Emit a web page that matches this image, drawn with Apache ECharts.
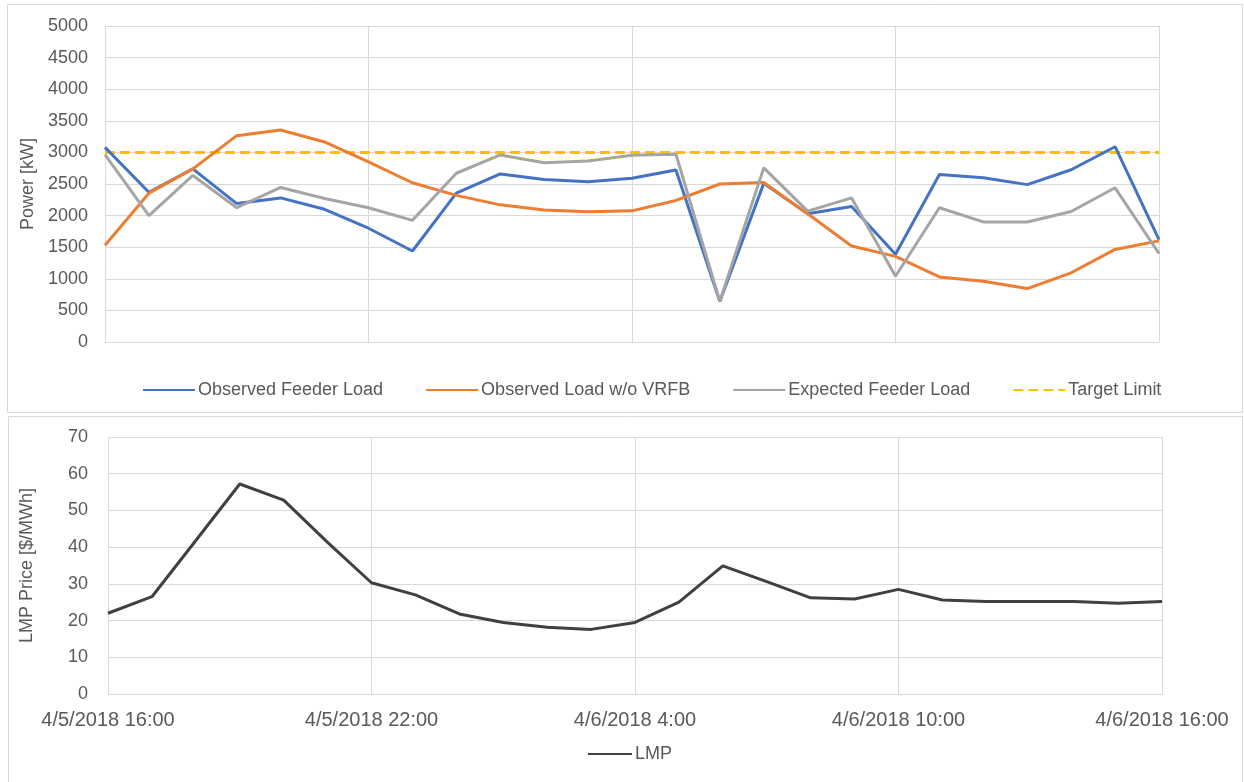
<!DOCTYPE html>
<html>
<head>
<meta charset="utf-8">
<script src="https://cdn.jsdelivr.net/npm/echarts@6/dist/echarts.min.js"></script>
<style>
  html, body { margin: 0; padding: 0; background: #fff; }
  #chart { width: 1244px; height: 782px; }
</style>
</head>
<body>
<div id="chart"></div>
<script>
// Hourly timestamps shared by both panels
const categories = [
  '4/5/2018 16:00', '4/5/2018 17:00', '4/5/2018 18:00', '4/5/2018 19:00', '4/5/2018 20:00',
  '4/5/2018 21:00', '4/5/2018 22:00', '4/5/2018 23:00', '4/6/2018 0:00', '4/6/2018 1:00',
  '4/6/2018 2:00', '4/6/2018 3:00', '4/6/2018 4:00', '4/6/2018 5:00', '4/6/2018 6:00',
  '4/6/2018 7:00', '4/6/2018 8:00', '4/6/2018 9:00', '4/6/2018 10:00', '4/6/2018 11:00',
  '4/6/2018 12:00', '4/6/2018 13:00', '4/6/2018 14:00', '4/6/2018 15:00', '4/6/2018 16:00'
];

// Feeder power [kW]
const observedFeederLoad = [3080, 2370, 2740, 2190, 2280, 2100, 1800, 1440, 2355, 2660, 2570, 2535, 2590, 2720, 640, 2510, 2030, 2145, 1390, 2650, 2600, 2490, 2725, 3090, 1620];
const observedLoadNoVRFB = [1530, 2355, 2740, 3265, 3355, 3165, 2850, 2520, 2320, 2170, 2090, 2060, 2075, 2240, 2500, 2525, 2030, 1520, 1355, 1030, 960, 845, 1095, 1465, 1600];
const expectedFeederLoad = [2965, 2000, 2635, 2125, 2445, 2270, 2125, 1925, 2670, 2960, 2835, 2865, 2955, 2970, 645, 2755, 2070, 2280, 1040, 2125, 1900, 1900, 2065, 2440, 1400];
const targetLimit = [3000, 3000, 3000, 3000, 3000, 3000, 3000, 3000, 3000, 3000, 3000, 3000, 3000, 3000, 3000, 3000, 3000, 3000, 3000, 3000, 3000, 3000, 3000, 3000, 3000];

// Locational marginal price [$/MWh]
const lmp = [22.0, 26.5, 41.8, 57.2, 52.8, 41.3, 30.3, 27.0, 21.8, 19.5, 18.2, 17.6, 19.5, 25.0, 34.9, 30.6, 26.2, 25.9, 28.5, 25.6, 25.2, 25.2, 25.2, 24.7, 25.2];

const FONT = "'Liberation Sans', Arial, sans-serif";
const TEXT = '#595959';
const GRID = '#d9d9d9';

const chart = echarts.init(document.getElementById('chart'), null, { renderer: 'canvas' });

function xAxisFor(gridIndex, showLabels) {
  return {
    type: 'category',
    gridIndex: gridIndex,
    data: categories,
    boundaryGap: false,
    axisLine: { show: true, lineStyle: { color: GRID, width: 1 } },
    axisTick: { show: false },
    axisLabel: {
      show: showLabels,
      interval: 5,
      color: TEXT,
      fontFamily: FONT,
      fontSize: 20,
      margin: 16
    },
    splitLine: { show: true, interval: 5, lineStyle: { color: GRID, width: 1 } }
  };
}

function yAxisFor(gridIndex, max, interval, name, nameGap, labelMargin) {
  return {
    type: 'value',
    gridIndex: gridIndex,
    min: 0, max: max, interval: interval,
    name: name,
    nameLocation: 'middle',
    nameGap: nameGap,
    nameTextStyle: { color: TEXT, fontFamily: FONT, fontSize: 18 },
    axisLine: { show: false },
    axisTick: { show: false },
    axisLabel: { color: TEXT, fontFamily: FONT, fontSize: 18, margin: labelMargin, formatter: v => String(v) },
    splitLine: { show: true, lineStyle: { color: GRID, width: 1 } }
  };
}

function lineSeries(name, data, color, extra) {
  return Object.assign({
    name: name,
    type: 'line',
    data: data,
    xAxisIndex: 0,
    yAxisIndex: 0,
    symbol: 'none',
    smooth: false,
    lineStyle: { color: color, width: 3 },
    itemStyle: { color: color },
    emphasis: { disabled: true }
  }, extra || {});
}

// Legend entries show only the line sample, no marker
const legendItemStyle = { color: 'rgba(0,0,0,0)', borderWidth: 0, opacity: 0 };

const option = {
  animation: false,
  backgroundColor: '#ffffff',
  graphic: [
    { type: 'rect', shape: { x: 7.5, y: 4.5, width: 1235, height: 408 }, style: { fill: 'none', stroke: GRID, lineWidth: 1 }, silent: true },
    { type: 'rect', shape: { x: 8.5, y: 416.5, width: 1234, height: 370 }, style: { fill: 'none', stroke: GRID, lineWidth: 1 }, silent: true }
  ],
  grid: [
    { left: 105, right: 85, top: 26, height: 316 },
    { left: 108, right: 82, top: 437, height: 257 }
  ],
  xAxis: [xAxisFor(0, false), xAxisFor(1, true)],
  yAxis: [
    yAxisFor(0, 5000, 500, 'Power [kW]', 60, 17),
    yAxisFor(1, 70, 10, 'LMP Price [$/MWh]', 72, 20)
  ],
  legend: [
    {
      left: 137,
      top: 376,
      itemWidth: 52,
      itemHeight: 18,
      itemGap: 42,
      itemStyle: legendItemStyle,
      data: [
        { name: 'Observed Feeder Load' },
        { name: 'Observed Load w/o VRFB' },
        { name: 'Expected Feeder Load' },
        { name: 'Target Limit' }
      ],
      textStyle: { color: TEXT, fontFamily: FONT, fontSize: 18, padding: [0, 0, 0, -2] },
      selectedMode: false
    },
    {
      left: 582,
      top: 740,
      itemWidth: 44,
      itemHeight: 18,
      itemStyle: legendItemStyle,
      data: [{ name: 'LMP' }],
      textStyle: { color: TEXT, fontFamily: FONT, fontSize: 18, padding: [0, 0, 0, -2] },
      selectedMode: false
    }
  ],
  series: [
    lineSeries('Observed Feeder Load', observedFeederLoad, '#4472c4'),
    lineSeries('Observed Load w/o VRFB', observedLoadNoVRFB, '#ed7d31'),
    lineSeries('Expected Feeder Load', expectedFeederLoad, '#a5a5a5'),
    lineSeries('Target Limit', targetLimit, '#ffc000', {
      lineStyle: { color: '#ffc000', width: 3, type: [10, 5] },
      z: 1
    }),
    lineSeries('LMP', lmp, '#404040', { xAxisIndex: 1, yAxisIndex: 1 })
  ]
};

chart.setOption(option);
</script>
</body>
</html>
